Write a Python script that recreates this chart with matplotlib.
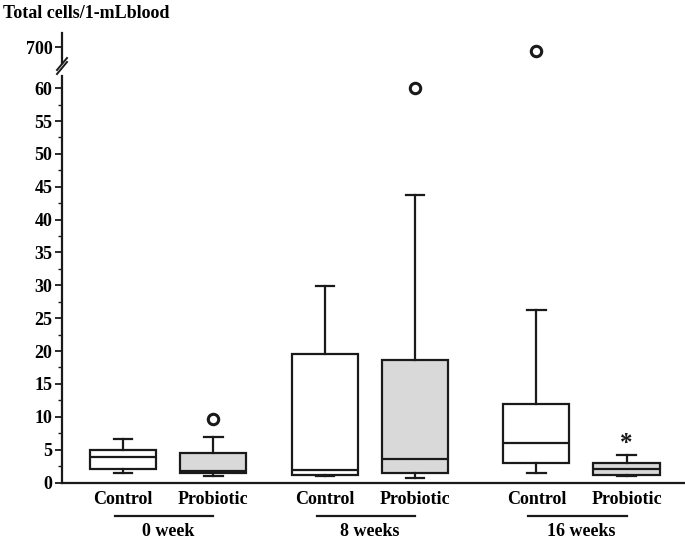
import matplotlib
matplotlib.use("Agg")
import matplotlib.pyplot as plt
from matplotlib.lines import Line2D
import numpy as np

plt.rcParams['font.family'] = ['Liberation Serif', 'DejaVu Serif']
plt.rcParams['font.weight'] = 'bold'

# ---- data ----
groups = ["0 week", "8 weeks", "16 weeks"]
treatments = ["Control", "Probiotic"]
whislo = [1.5, 1.05, 0.95, 0.65, 1.45, 0.95]
q1 = [2.0, 1.45, 1.1, 1.5, 2.9, 1.15]
med = [3.85, 1.8, 1.9, 3.6, 6.0, 2.05]
q3 = [4.95, 4.5, 19.6, 18.7, 11.9, 2.9]
whishi = [6.65, 6.9, 29.9, 43.8, 26.2, 4.2]
fliers = [[], [9.7], [], [60.1], [696], []]
star_value = 6.5  # asterisk above 16-week probiotic
y_ticks = [0, 5, 10, 15, 20, 25, 30, 35, 40, 45, 50, 55, 60]
upper_tick = [700]
ylabel = "Total cells/1-mLblood"

# ---- layout ----
W, H = 685, 541
fig = plt.figure(figsize=(W / 100, H / 100), dpi=100)

def fx(px):
    return px / W

def fy(py):
    return 1 - py / H

ax = fig.add_axes([fx(62), fy(482.5), fx(685) - fx(62), fy(76) - fy(482.5)])
axu = fig.add_axes([fx(62), fy(63), fx(685) - fx(62), fy(33) - fy(63)])

lw = 1.6
col = '#1a1a1a'
group_centers = [1.0, 1.977, 3.0]
offset = 0.218
width = 0.32
positions = []
for g in range(len(groups)):
    for t in range(len(treatments)):
        positions.append(group_centers[g] + (-offset if t == 0 else offset))

fills = ['white', '#d9d9d9']
for a, is_upper in ((ax, False), (axu, True)):
    stats = []
    for i in range(6):
        fl = [v for v in fliers[i] if (v > 100) == is_upper]
        stats.append(dict(med=med[i], q1=q1[i], q3=q3[i], whislo=whislo[i],
                          whishi=whishi[i], fliers=fl))
    if is_upper:
        for i, s in enumerate(stats):
            if s['fliers']:
                a.plot([positions[i]] * len(s['fliers']), s['fliers'], 'o',
                       mfc='white', mec=col, mew=2.2, ms=7.5, clip_on=False)
        continue
    bp = a.bxp(stats, positions=positions, widths=width, patch_artist=True,
               capwidths=0.09, showfliers=True,
               boxprops=dict(linewidth=lw, edgecolor=col),
               whiskerprops=dict(linewidth=lw, color=col),
               capprops=dict(linewidth=lw, color=col),
               medianprops=dict(linewidth=lw, color=col),
               flierprops=dict(marker='o', mfc='white', mec=col, mew=2.2,
                               ms=7.5))
    for i, patch in enumerate(bp['boxes']):
        patch.set_facecolor(fills[i % 2])
    for fl in bp['fliers']:
        fl.set_clip_on(False)

xl = (0.486, 3.501)
ax.set_xlim(*xl)
axu.set_xlim(*xl)
ax.set_ylim(0, 61.85)
axu.set_ylim(684, 714)

# lower axes styling
for s in ['top', 'right']:
    ax.spines[s].set_visible(False)
ax.spines['left'].set_linewidth(lw)
ax.spines['bottom'].set_linewidth(lw)
ax.spines['left'].set_color(col)
ax.spines['bottom'].set_color(col)
ax.set_xticks([])
ax.set_yticks(y_ticks)
ax.set_yticks(np.arange(2.5, 61, 5), minor=True)
ax.tick_params(axis='y', which='major', length=5, width=1.3, color=col,
               labelsize=13, pad=2)
ax.tick_params(axis='y', which='minor', length=3, width=1.0, color=col)
for lab in ax.get_yticklabels():
    lab.set_fontweight('bold')

# upper axes styling
for s in ['top', 'right', 'bottom']:
    axu.spines[s].set_visible(False)
axu.spines['left'].set_linewidth(lw)
axu.spines['left'].set_color(col)
axu.set_xticks([])
axu.set_yticks(upper_tick)
axu.tick_params(axis='y', which='major', length=5, width=1.3, color=col,
                labelsize=13, pad=2)
axu.patch.set_alpha(0)
for lab in axu.get_yticklabels():
    lab.set_fontweight('bold')

# break marks
for dy in (0, 4):
    fig.add_artist(Line2D([fx(57), fx(67)], [fy(72 + dy - 2), fy(60 + dy - 2)],
                          color=col, lw=1.4))

# y label
fig.text(fx(3), fy(13), ylabel, fontsize=13, fontweight='bold',
         ha='left', va='center')

# category and group labels
trans = ax.get_xaxis_transform()
for i, p in enumerate(positions):
    ax.text(p, -0.043, treatments[i % 2], transform=trans, ha='center',
            va='center', fontsize=13, fontweight='bold')
for g, name in enumerate(groups):
    c = group_centers[g]
    ax.plot([c - 0.258, c + 0.218], [-0.0824, -0.0824], transform=trans,
            color=col, lw=1.6, clip_on=False)
    ax.text(c, -0.121, name, transform=trans, ha='center', va='center',
            fontsize=13, fontweight='bold')

# asterisk
ax.text(positions[5], star_value - 0.6, '*', ha='center', va='center',
        fontsize=18, fontweight='bold', color=col)

fig.savefig('out.png', dpi=100)
